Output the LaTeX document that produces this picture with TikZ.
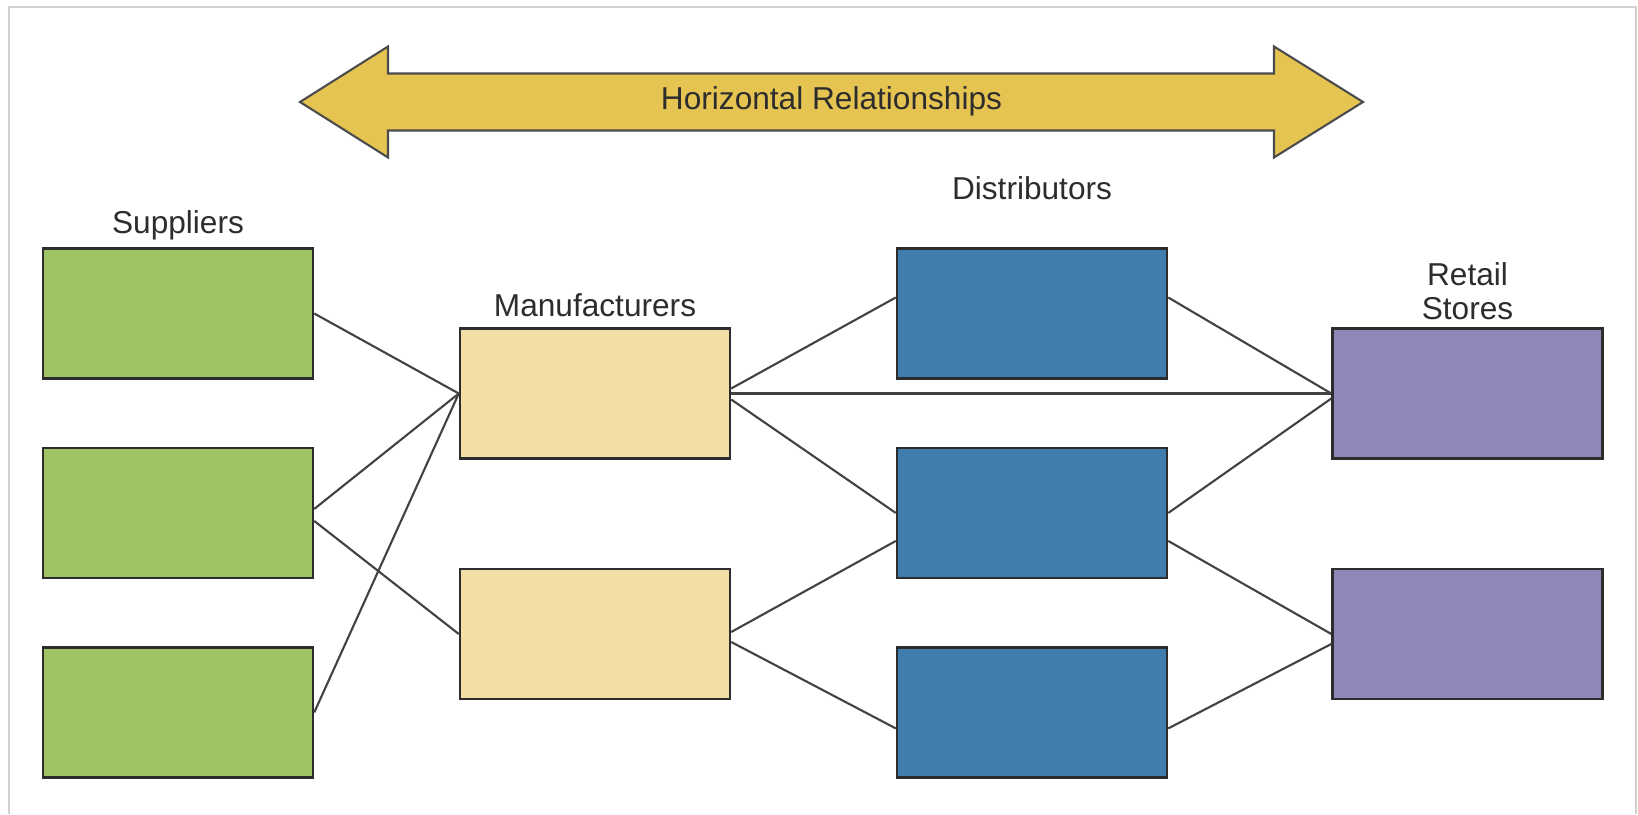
\documentclass[tikz,border=0pt]{standalone}
\usepackage{fontspec}
\setmainfont{Liberation Sans}
\usetikzlibrary{positioning}
\definecolor{supgreen}{RGB}{159,194,99}
\definecolor{manyellow}{RGB}{243,222,165}
\definecolor{disblue}{RGB}{63,125,175}
\definecolor{retpurple}{RGB}{142,136,184}
\definecolor{relgold}{RGB}{230,196,82}
\definecolor{inkgray}{RGB}{45,45,45}
\tikzset{
  box/.style ={rectangle, draw=inkgray, line width=0.7pt, minimum width=2.7cm, minimum height=1.3cm, inner sep=0pt},
  sup/.style ={box, fill=supgreen},
  man/.style ={box, fill=manyellow},
  dis/.style ={box, fill=disblue},
  ret/.style ={box, fill=retpurple},
  lbl/.style ={inner sep=0pt, text=inkgray, font=\fontsize{9}{9.5}\selectfont, align=center},
  hrel/.style={draw=inkgray!85, line width=0.6pt, fill=relgold, line join=miter},
  link/.style={draw=inkgray!90, line width=0.6pt},
  frame/.style={draw=black!18, line width=0.8pt},
}
\begin{document}
\begin{tikzpicture}[node distance=0.67cm and 1.47cm]
\useasboundingbox (0,0) rectangle (16.38,8.14);
\draw[frame] (0.09,0) -- (0.09,8.07) -- (16.36,8.07) -- (16.36,0);
% horizontal relationships arrow
\draw[hrel] (3.00,7.12) -- (3.88,7.675) -- (3.88,7.405) -- (12.74,7.405) -- (12.74,7.675)
  -- (13.63,7.12) -- (12.74,6.565) -- (12.74,6.835) -- (3.88,6.835) -- (3.88,6.565) -- cycle;
\node[lbl] (hr) at (8.315,7.13) {Horizontal Relationships};
% suppliers
\node[sup] (s1) at (1.78,5.005) {};
\node[sup, below=of s1] (s2) {};
\node[sup, below=of s2] (s3) {};
% manufacturers
\node[man] (m1) at (5.95,4.205) {};
\node[man] (m2) at (5.95,1.80) {};
% distributors
\node[dis] (d1) at (10.32,5.005) {};
\node[dis, below=of d1] (d2) {};
\node[dis, below=of d2] (d3) {};
% retail stores
\node[ret] (r1) at (14.675,4.205) {};
\node[ret] (r2) at (14.675,1.80) {};
% column labels
\node[lbl, above=0.06cm of s1] (sl) {Suppliers};
\node[lbl, above=0.095cm of m1] (ml) {Manufacturers};
\node[lbl, above=0.47cm of d1] (dl) {Distributors};
\node[lbl, above=0.07cm of r1] (rl) {Retail\\Stores};
% links
\draw[link] (s1.east) -- (m1.west);
\draw[link] ([yshift=0.04cm]s2.east) -- (m1.west);
\draw[link] ([yshift=-0.08cm]s2.east) -- (m2.west);
\draw[link] (s3.east) -- (m1.west);
\draw[link] ([yshift=0.05cm]m1.east) -- ([yshift=0.16cm]d1.west);
\draw[link] (m1.east) -- (r1.west);
\draw[link] ([yshift=-0.06cm]m1.east) -- (d2.west);
\draw[link] ([yshift=0.02cm]m2.east) -- ([yshift=-0.28cm]d2.west);
\draw[link] ([yshift=-0.08cm]m2.east) -- ([yshift=-0.16cm]d3.west);
\draw[link] ([yshift=0.16cm]d1.east) -- (r1.west);
\draw[link] (d2.east) -- ([yshift=-0.05cm]r1.west);
\draw[link] ([yshift=-0.28cm]d2.east) -- (r2.west);
\draw[link] ([yshift=-0.16cm]d3.east) -- ([yshift=-0.1cm]r2.west);
\end{tikzpicture}
\end{document}
